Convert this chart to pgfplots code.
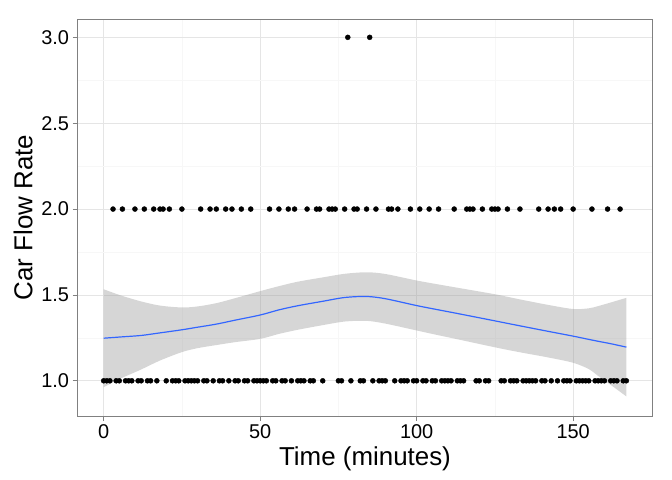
\documentclass[border=0pt]{standalone}
\usepackage{pgfplots}
\pgfplotsset{compat=1.18}
\usepgfplotslibrary{fillbetween}
\usepackage{fontspec}
\setmainfont{Liberation Sans}

\definecolor{gridmaj}{gray}{0.9}
\definecolor{gridmin}{gray}{0.97}
\definecolor{smoothcol}{HTML}{3366FF}

\begin{document}
\begin{tikzpicture}
\begin{axis}[
  name=ax,
  scale only axis,
  width=575bp, height=396.7bp,
  xmin=-8.35, xmax=175.35,
  ymin=0.795, ymax=3.105,
  xtick={0,50,100,150},
  ytick={1,1.5,2,2.5,3},
  minor xtick={25,75,125},
  minor ytick={1.25,1.75,2.25,2.75},
  grid=both,
  major grid style={gridmaj, line width=0.8bp},
  minor grid style={gridmin, line width=0.5bp},
  axis line style={black!50, line width=0.8bp},
  tick style={black!50, line width=0.8bp},
  tick align=outside,
  major tick length=5bp,
  minor tick length=0pt,
  xtick pos=bottom, ytick pos=left,
  tick label style={font=\fontsize{20}{24}\selectfont, black},
  /pgf/number format/assume math mode=true,
  yticklabel style={/pgf/number format/.cd, fixed, fixed zerofill, precision=1},
  xlabel={Time (minutes)},
  ylabel={Car Flow Rate},
  every axis x label/.style={at={([yshift=-43bp]rel axis cs:0.5,0)}, anchor=center, font=\fontsize{26}{30}\selectfont},
  every axis y label/.style={at={([xshift=-54.5bp]rel axis cs:0,0.5)}, anchor=center, rotate=90, font=\fontsize{26}{30}\selectfont},
]
% observations
\addplot[only marks, mark=*, mark size=2.5bp, black] coordinates {
(0,1)(1,1)(2,1)(4,1)(5,1)(7,1)(8,1)(9,1)(11,1)(12,1)(14,1)(15,1)(17,1)
(20,1)(22,1)(23,1)(24,1)(26,1)(27,1)(28,1)(29,1)(30,1)(32,1)(33,1)(35,1)
(37,1)(38,1)(40,1)(42,1)(43,1)(45,1)(46,1)(48,1)(49,1)(50,1)(51,1)(52,1)
(54,1)(55,1)(57,1)(58,1)(60,1)(62,1)(63,1)(64,1)(66,1)(67,1)(70,1)(75,1)
(76,1)(79,1)(82,1)(83,1)(86,1)(88,1)(89,1)(90,1)(93,1)(95,1)(96,1)(97,1)
(99,1)(100,1)(102,1)(103,1)(105,1)(106,1)(108,1)(109,1)(110,1)(111,1)
(113,1)(114,1)(115,1)(119,1)(120,1)(122,1)(123,1)(127,1)(128,1)(130,1)
(131,1)(132,1)(134,1)(135,1)(136,1)(137,1)(138,1)(140,1)(141,1)(143,1)
(145,1)(147,1)(148,1)(149,1)(151,1)(152,1)(153,1)(154,1)(155,1)(157,1)
(158,1)(159,1)(160,1)(162,1)(163,1)(164,1)(166,1)(167,1)
(3,2)(6,2)(10,2)(13,2)(16,2)(18,2)(19,2)(21,2)(25,2)(31,2)(34,2)(36,2)
(39,2)(41,2)(44,2)(47,2)(53,2)(56,2)(59,2)(61,2)(65,2)(68,2)(69,2)(72,2)
(73,2)(74,2)(77,2)(80,2)(81,2)(84,2)(87,2)(91,2)(92,2)(94,2)(98,2)(101,2)
(104,2)(107,2)(112,2)(116,2)(117,2)(118,2)(121,2)(124,2)(125,2)(126,2)
(129,2)(133,2)(139,2)(142,2)(144,2)(146,2)(150,2)(156,2)(161,2)(165,2)
(78,3)(85,3)
};
% confidence band
\addplot[name path=upper, draw=none, smooth, forget plot] coordinates {
(0,1.533)(3,1.513)(6,1.494)(12,1.462)(18,1.438)(25,1.427)(30,1.433)
(36,1.452)(42,1.481)(50,1.522)(56,1.551)(62,1.577)(70,1.602)(77,1.623)
(84,1.632)(90,1.622)(100,1.584)(107,1.561)(113,1.542)(125,1.504)
(133,1.474)(142,1.442)(150,1.418)(155,1.422)(158,1.435)(162,1.456)(167,1.483)
};
\addplot[name path=lower, draw=none, smooth, forget plot] coordinates {
(0,0.963)(3,0.991)(6,1.018)(12,1.066)(18,1.118)(25,1.167)(30,1.190)
(36,1.208)(42,1.225)(50,1.244)(56,1.273)(62,1.297)(70,1.324)(77,1.345)
(84,1.349)(90,1.333)(100,1.293)(107,1.265)(113,1.242)(125,1.195)
(133,1.166)(142,1.136)(150,1.105)(155,1.068)(158,1.028)(162,0.976)(167,0.909)
};
\addplot[draw=none, fill=black!40, fill opacity=0.4] fill between[of=upper and lower];
% fitted curve
\addplot[smooth, smoothcol, line width=1.2bp, no marks] coordinates {
(0,1.248)(3,1.252)(6,1.256)(12,1.264)(18,1.279)(25,1.297)(30,1.312)
(36,1.330)(42,1.353)(50,1.383)(56,1.413)(62,1.437)(70,1.463)(77,1.485)
(84,1.491)(90,1.478)(100,1.438)(107,1.413)(113,1.392)(125,1.349)
(133,1.320)(142,1.288)(150,1.260)(155,1.241)(158,1.230)(162,1.216)(167,1.196)
};
\end{axis}
\path ([shift={(-77.5bp,-64bp)}]ax.south west) rectangle ([shift={(19.5bp,19.3bp)}]ax.north east);
\end{tikzpicture}
\end{document}
